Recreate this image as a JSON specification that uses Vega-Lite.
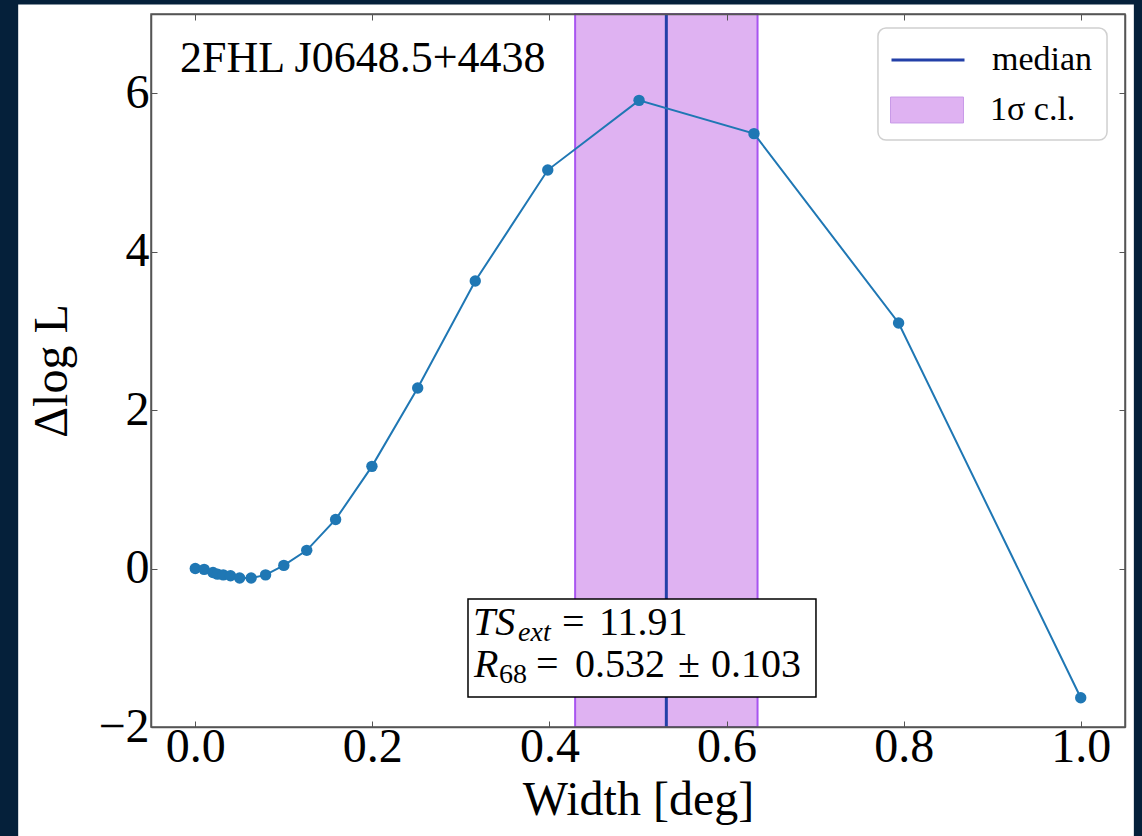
{
  "$schema": "https://vega.github.io/schema/vega-lite/v6.json",
  "width": 974,
  "height": 713,
  "autosize": {"type": "none"},
  "padding": {"left": 151, "top": 14, "right": 17, "bottom": 109},
  "background": "#05203a",
  "config": {
    "view": {"stroke": null},
    "font": "Liberation Serif",
    "axis": {
      "grid": false,
      "labelFont": "Liberation Serif",
      "titleFont": "Liberation Serif",
      "labelFontSize": 48,
      "titleFontSize": 48,
      "labelColor": "black",
      "titleColor": "black",
      "titleFontWeight": "normal",
      "tickSize": -6,
      "tickColor": "#555555",
      "tickWidth": 1,
      "domainColor": "#555555",
      "domainWidth": 1.5,
      "labelFlush": false,
      "labelOverlap": false
    },
    "legend": {
      "labelFont": "Liberation Serif",
      "labelFontSize": 34,
      "labelColor": "black",
      "title": null,
      "orient": "none",
      "padding": 12,
      "symbolSize": 1332,
      "symbolOffset": 18,
      "labelOffset": 44
    }
  },
  "resolve": {"axis": {"x": "independent", "y": "independent"}},
  "layer": [
    {
      "data": {"values": [{"x": -0.2, "x2": 1.06, "y": -3.5, "y2": 7.12}]},
      "mark": {"type": "rect", "fill": "white", "clip": false},
      "encoding": {
        "x": {"field": "x", "type": "quantitative", "scale": {"domain": [-0.05, 1.05], "nice": false, "zero": false},
          "axis": {"orient": "top", "labels": false, "title": null, "values": [0, 0.2, 0.4, 0.6, 0.8, 1.0], "zindex": 1}},
        "x2": {"field": "x2"},
        "y": {"field": "y", "type": "quantitative", "scale": {"domain": [-2, 7], "nice": false, "zero": false},
          "axis": {"orient": "right", "labels": false, "title": null, "values": [-2, 0, 2, 4, 6], "zindex": 1}},
        "y2": {"field": "y2"}
      }
    },
    {
      "data": {"values": [{"x": 0.429, "x2": 0.635, "band": "1σ c.l."}]},
      "mark": {"type": "rect", "stroke": "#a855f0", "strokeWidth": 2},
      "encoding": {
        "x": {"field": "x", "type": "quantitative", "scale": {"domain": [-0.05, 1.05], "nice": false, "zero": false}, "axis": null},
        "x2": {"field": "x2"},
        "fill": {
          "field": "band", "type": "nominal",
          "scale": {"domain": ["1σ c.l."], "range": ["#dfb2f2"]},
          "legend": {
            "legendX": 727, "legendY": 65,
            "symbolType": "M-2,-0.71H2V0.71H-2Z",
            "symbolStrokeColor": "#c99ae8", "symbolStrokeWidth": 1
          }
        }
      }
    },
    {
      "data": {"values": [{"x": 0.532, "med": "median"}]},
      "mark": {"type": "rule", "strokeWidth": 3},
      "encoding": {
        "x": {"field": "x", "type": "quantitative", "scale": {"domain": [-0.05, 1.05], "nice": false, "zero": false}, "axis": null},
        "stroke": {
          "field": "med", "type": "nominal",
          "scale": {"domain": ["median"], "range": ["#2340a8"]},
          "legend": {
            "legendX": 727, "legendY": 14,
            "symbolType": "M-2,0H2", "symbolStrokeWidth": 3
          }
        }
      }
    },
    {
      "data": {"values": [
        {"width": 0.0, "dlogl": 0.0},
        {"width": 0.01, "dlogl": -0.01},
        {"width": 0.02, "dlogl": -0.05},
        {"width": 0.0251, "dlogl": -0.07},
        {"width": 0.0316, "dlogl": -0.08},
        {"width": 0.0398, "dlogl": -0.09},
        {"width": 0.0501, "dlogl": -0.12},
        {"width": 0.0631, "dlogl": -0.12},
        {"width": 0.0794, "dlogl": -0.08},
        {"width": 0.1, "dlogl": 0.04},
        {"width": 0.1259, "dlogl": 0.23},
        {"width": 0.1585, "dlogl": 0.62},
        {"width": 0.1995, "dlogl": 1.29},
        {"width": 0.2512, "dlogl": 2.28},
        {"width": 0.3162, "dlogl": 3.63},
        {"width": 0.3981, "dlogl": 5.03},
        {"width": 0.5012, "dlogl": 5.91},
        {"width": 0.631, "dlogl": 5.49},
        {"width": 0.7943, "dlogl": 3.1},
        {"width": 1.0, "dlogl": -1.63}
      ]},
      "mark": {"type": "line", "color": "#1f77b4", "strokeWidth": 2,
        "point": {"filled": true, "size": 130, "color": "#1f77b4"}},
      "encoding": {
        "x": {"field": "width", "type": "quantitative", "scale": {"domain": [-0.05, 1.05], "nice": false, "zero": false},
          "axis": {"orient": "bottom", "title": "Width [deg]", "values": [0, 0.2, 0.4, 0.6, 0.8, 1.0], "format": ".1f", "labelPadding": 2, "titlePadding": 5, "zindex": 1}},
        "y": {"field": "dlogl", "type": "quantitative", "scale": {"domain": [-2, 7], "nice": false, "zero": false},
          "axis": {"orient": "left", "title": "Δlog L", "values": [-2, 0, 2, 4, 6], "format": "d", "labelPadding": 8, "titlePadding": 21, "zindex": 1}}
      }
    },
    {
      "data": {"values": [{"x": -0.05, "x2": 1.05, "y": -2, "y2": 7}]},
      "mark": {"type": "rect", "fill": null, "fillOpacity": 0, "stroke": "#555555", "strokeWidth": 1.5},
      "encoding": {
        "x": {"field": "x", "type": "quantitative", "scale": {"domain": [-0.05, 1.05], "nice": false, "zero": false}, "axis": null},
        "x2": {"field": "x2"},
        "y": {"field": "y", "type": "quantitative", "scale": {"domain": [-2, 7], "nice": false, "zero": false}, "axis": null},
        "y2": {"field": "y2"}
      }
    },
    {
      "data": {"values": [{"x": 0.771, "x2": 1.0297, "y": 6.823, "y2": 5.409}]},
      "mark": {"type": "rect", "fill": "white", "stroke": "#d0d0d0", "strokeWidth": 1.5, "cornerRadius": 8},
      "encoding": {
        "x": {"field": "x", "type": "quantitative", "scale": {"domain": [-0.05, 1.05], "nice": false, "zero": false}, "axis": null},
        "x2": {"field": "x2"},
        "y": {"field": "y", "type": "quantitative", "scale": {"domain": [-2, 7], "nice": false, "zero": false}, "axis": null},
        "y2": {"field": "y2"}
      }
    },
    {
      "data": {"values": [{"x": 0.308, "x2": 0.701, "y": -0.385, "y2": -1.622}]},
      "mark": {"type": "rect", "fill": "white", "stroke": "black", "strokeWidth": 1.5},
      "encoding": {
        "x": {"field": "x", "type": "quantitative", "scale": {"domain": [-0.05, 1.05], "nice": false, "zero": false}, "axis": null},
        "x2": {"field": "x2"},
        "y": {"field": "y", "type": "quantitative", "scale": {"domain": [-2, 7], "nice": false, "zero": false}, "axis": null},
        "y2": {"field": "y2"}
      }
    },
    {
      "data": {"values": [
        {"x": 0.4142, "y": -0.839, "t": "="},
        {"x": 0.456, "y": -0.839, "t": "11.91"},
        {"x": 0.3848, "y": -1.369, "t": "="},
        {"x": 0.4288, "y": -1.369, "t": "0.532"},
        {"x": 0.5452, "y": -1.369, "t": "±"},
        {"x": 0.5824, "y": -1.369, "t": "0.103"}
      ]},
      "mark": {"type": "text", "font": "Liberation Serif", "fontSize": 40, "align": "left", "baseline": "alphabetic", "color": "black"},
      "encoding": {
        "x": {"field": "x", "type": "quantitative", "scale": {"domain": [-0.05, 1.05], "nice": false, "zero": false}, "axis": null},
        "y": {"field": "y", "type": "quantitative", "scale": {"domain": [-2, 7], "nice": false, "zero": false}, "axis": null},
        "text": {"field": "t"}
      }
    },
    {
      "data": {"values": [
        {"x": 0.3137, "y": -0.839, "t": "TS"},
        {"x": 0.3148, "y": -1.369, "t": "R"}
      ]},
      "mark": {"type": "text", "font": "Liberation Serif", "fontSize": 40, "fontStyle": "italic", "align": "left", "baseline": "alphabetic", "color": "black"},
      "encoding": {
        "x": {"field": "x", "type": "quantitative", "scale": {"domain": [-0.05, 1.05], "nice": false, "zero": false}, "axis": null},
        "y": {"field": "y", "type": "quantitative", "scale": {"domain": [-2, 7], "nice": false, "zero": false}, "axis": null},
        "text": {"field": "t"}
      }
    },
    {
      "data": {"values": [{"x": 0.3645, "y": -0.915, "t": "ext"}]},
      "mark": {"type": "text", "font": "Liberation Serif", "fontSize": 28, "fontStyle": "italic", "align": "left", "baseline": "alphabetic", "color": "black"},
      "encoding": {
        "x": {"field": "x", "type": "quantitative", "scale": {"domain": [-0.05, 1.05], "nice": false, "zero": false}, "axis": null},
        "y": {"field": "y", "type": "quantitative", "scale": {"domain": [-2, 7], "nice": false, "zero": false}, "axis": null},
        "text": {"field": "t"}
      }
    },
    {
      "data": {"values": [{"x": 0.343, "y": -1.445, "t": "68"}]},
      "mark": {"type": "text", "font": "Liberation Serif", "fontSize": 28, "align": "left", "baseline": "alphabetic", "color": "black"},
      "encoding": {
        "x": {"field": "x", "type": "quantitative", "scale": {"domain": [-0.05, 1.05], "nice": false, "zero": false}, "axis": null},
        "y": {"field": "y", "type": "quantitative", "scale": {"domain": [-2, 7], "nice": false, "zero": false}, "axis": null},
        "text": {"field": "t"}
      }
    },
    {
      "data": {"values": [{"x": -0.0172, "y": 6.268, "t": "2FHL J0648.5+4438"}]},
      "mark": {"type": "text", "font": "Liberation Serif", "fontSize": 44, "align": "left", "baseline": "alphabetic", "color": "black"},
      "encoding": {
        "x": {"field": "x", "type": "quantitative", "scale": {"domain": [-0.05, 1.05], "nice": false, "zero": false}, "axis": null},
        "y": {"field": "y", "type": "quantitative", "scale": {"domain": [-2, 7], "nice": false, "zero": false}, "axis": null},
        "text": {"field": "t"}
      }
    }
  ]
}
